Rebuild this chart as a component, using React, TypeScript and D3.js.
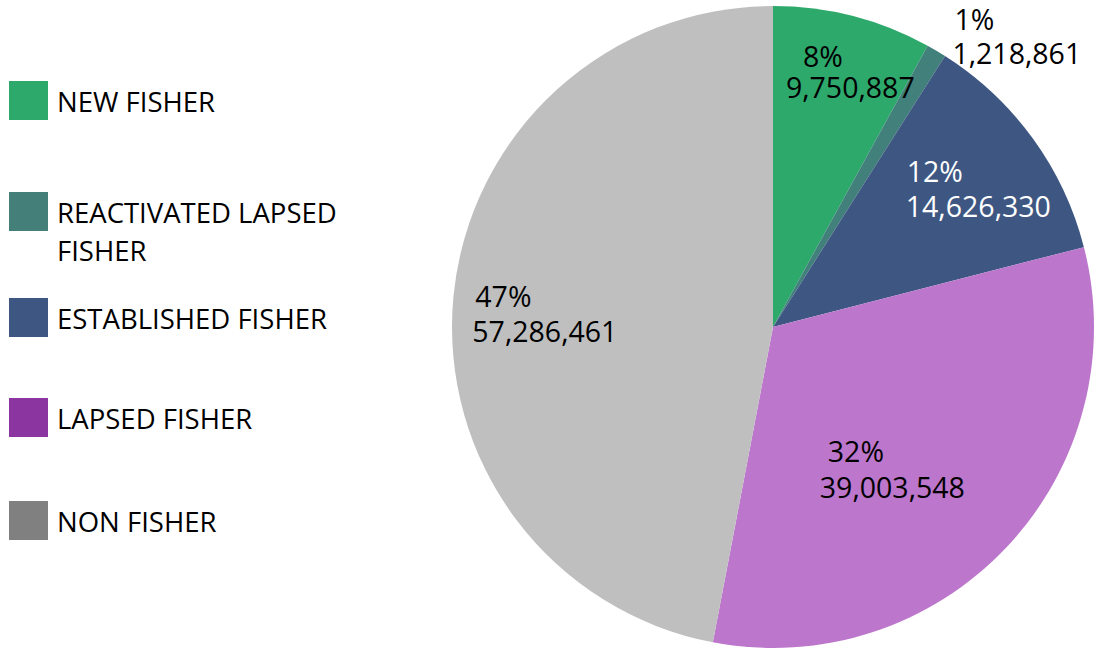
import React from "react";
import * as d3 from "d3";

const categories = ["NEW FISHER", "REACTIVATED LAPSED FISHER", "ESTABLISHED FISHER", "LAPSED FISHER", "NON FISHER"];
const legendLines = [["NEW FISHER"], ["REACTIVATED LAPSED", "FISHER"], ["ESTABLISHED FISHER"], ["LAPSED FISHER"], ["NON FISHER"]];
const values = [9750887, 1218861, 14626330, 39003548, 57286461];
const percentLabels = ["8%", "1%", "12%", "32%", "47%"];
const sliceColors = ["#2EA96C", "#41807B", "#3E5782", "#BC76CC", "#BFBFBF"];
const legendColors = ["#2EA96C", "#457F7A", "#3E5782", "#8A35A0", "#808080"];
const labelColors = ["#000", "#000", "#fff", "#000", "#000"];

// layout: per-label offsets from the slice centroid (line1 dx,dy ; line2 dx,dy)
const labelOffsets = [
  [-26, -42, -43, -11],
  [67, -104, 65, -70],
  [-48, -13, -49, 22],
  [-109, -19, -117, 17],
  [-74, 1, -77, 36],
];
const legendTop = [81, 192, 298, 398, 501];

export default function App() {
  const W = 1094, H = 650;
  const cx = 773, cy = 327, r = 321;
  const pie = d3.pie<number>().sort(null).value((d) => d);
  const arcs = pie(values);
  const arc = d3.arc<d3.PieArcDatum<number>>().innerRadius(0).outerRadius(r);
  const labelArc = d3.arc<d3.PieArcDatum<number>>().innerRadius(r * 0.7).outerRadius(r * 0.7);
  const fmt = d3.format(",");
  const font = "'Open Sans', sans-serif";

  return (
    <svg width={W} height={H} style={{ position: "absolute", left: 0, top: 0, background: "#fff" }}>
      <g transform={`translate(${cx},${cy})`}>
        {arcs.map((a, i) => (
          <path key={i} d={arc(a) || ""} fill={sliceColors[i]} />
        ))}
      </g>
      {arcs.map((a, i) => {
        const [x, y] = labelArc.centroid(a);
        const o = labelOffsets[i];
        return (
          <g key={i} fontFamily={font} fontSize={28.5} fill={labelColors[i]}>
            <text x={cx + x + o[0]} y={cy + y + o[1]}>{percentLabels[i]}</text>
            <text x={cx + x + o[2]} y={cy + y + o[3]}>{fmt(values[i])}</text>
          </g>
        );
      })}
      <g fontFamily={font} fontSize={27.5} fill="#000">
        {categories.map((c, i) => (
          <g key={c}>
            <rect x={9} y={legendTop[i]} width={39} height={39} fill={legendColors[i]} />
            {legendLines[i].map((ln, j) => (
              <text key={j} x={57} y={legendTop[i] + 31 + j * 38}>{ln}</text>
            ))}
          </g>
        ))}
      </g>
    </svg>
  );
}
